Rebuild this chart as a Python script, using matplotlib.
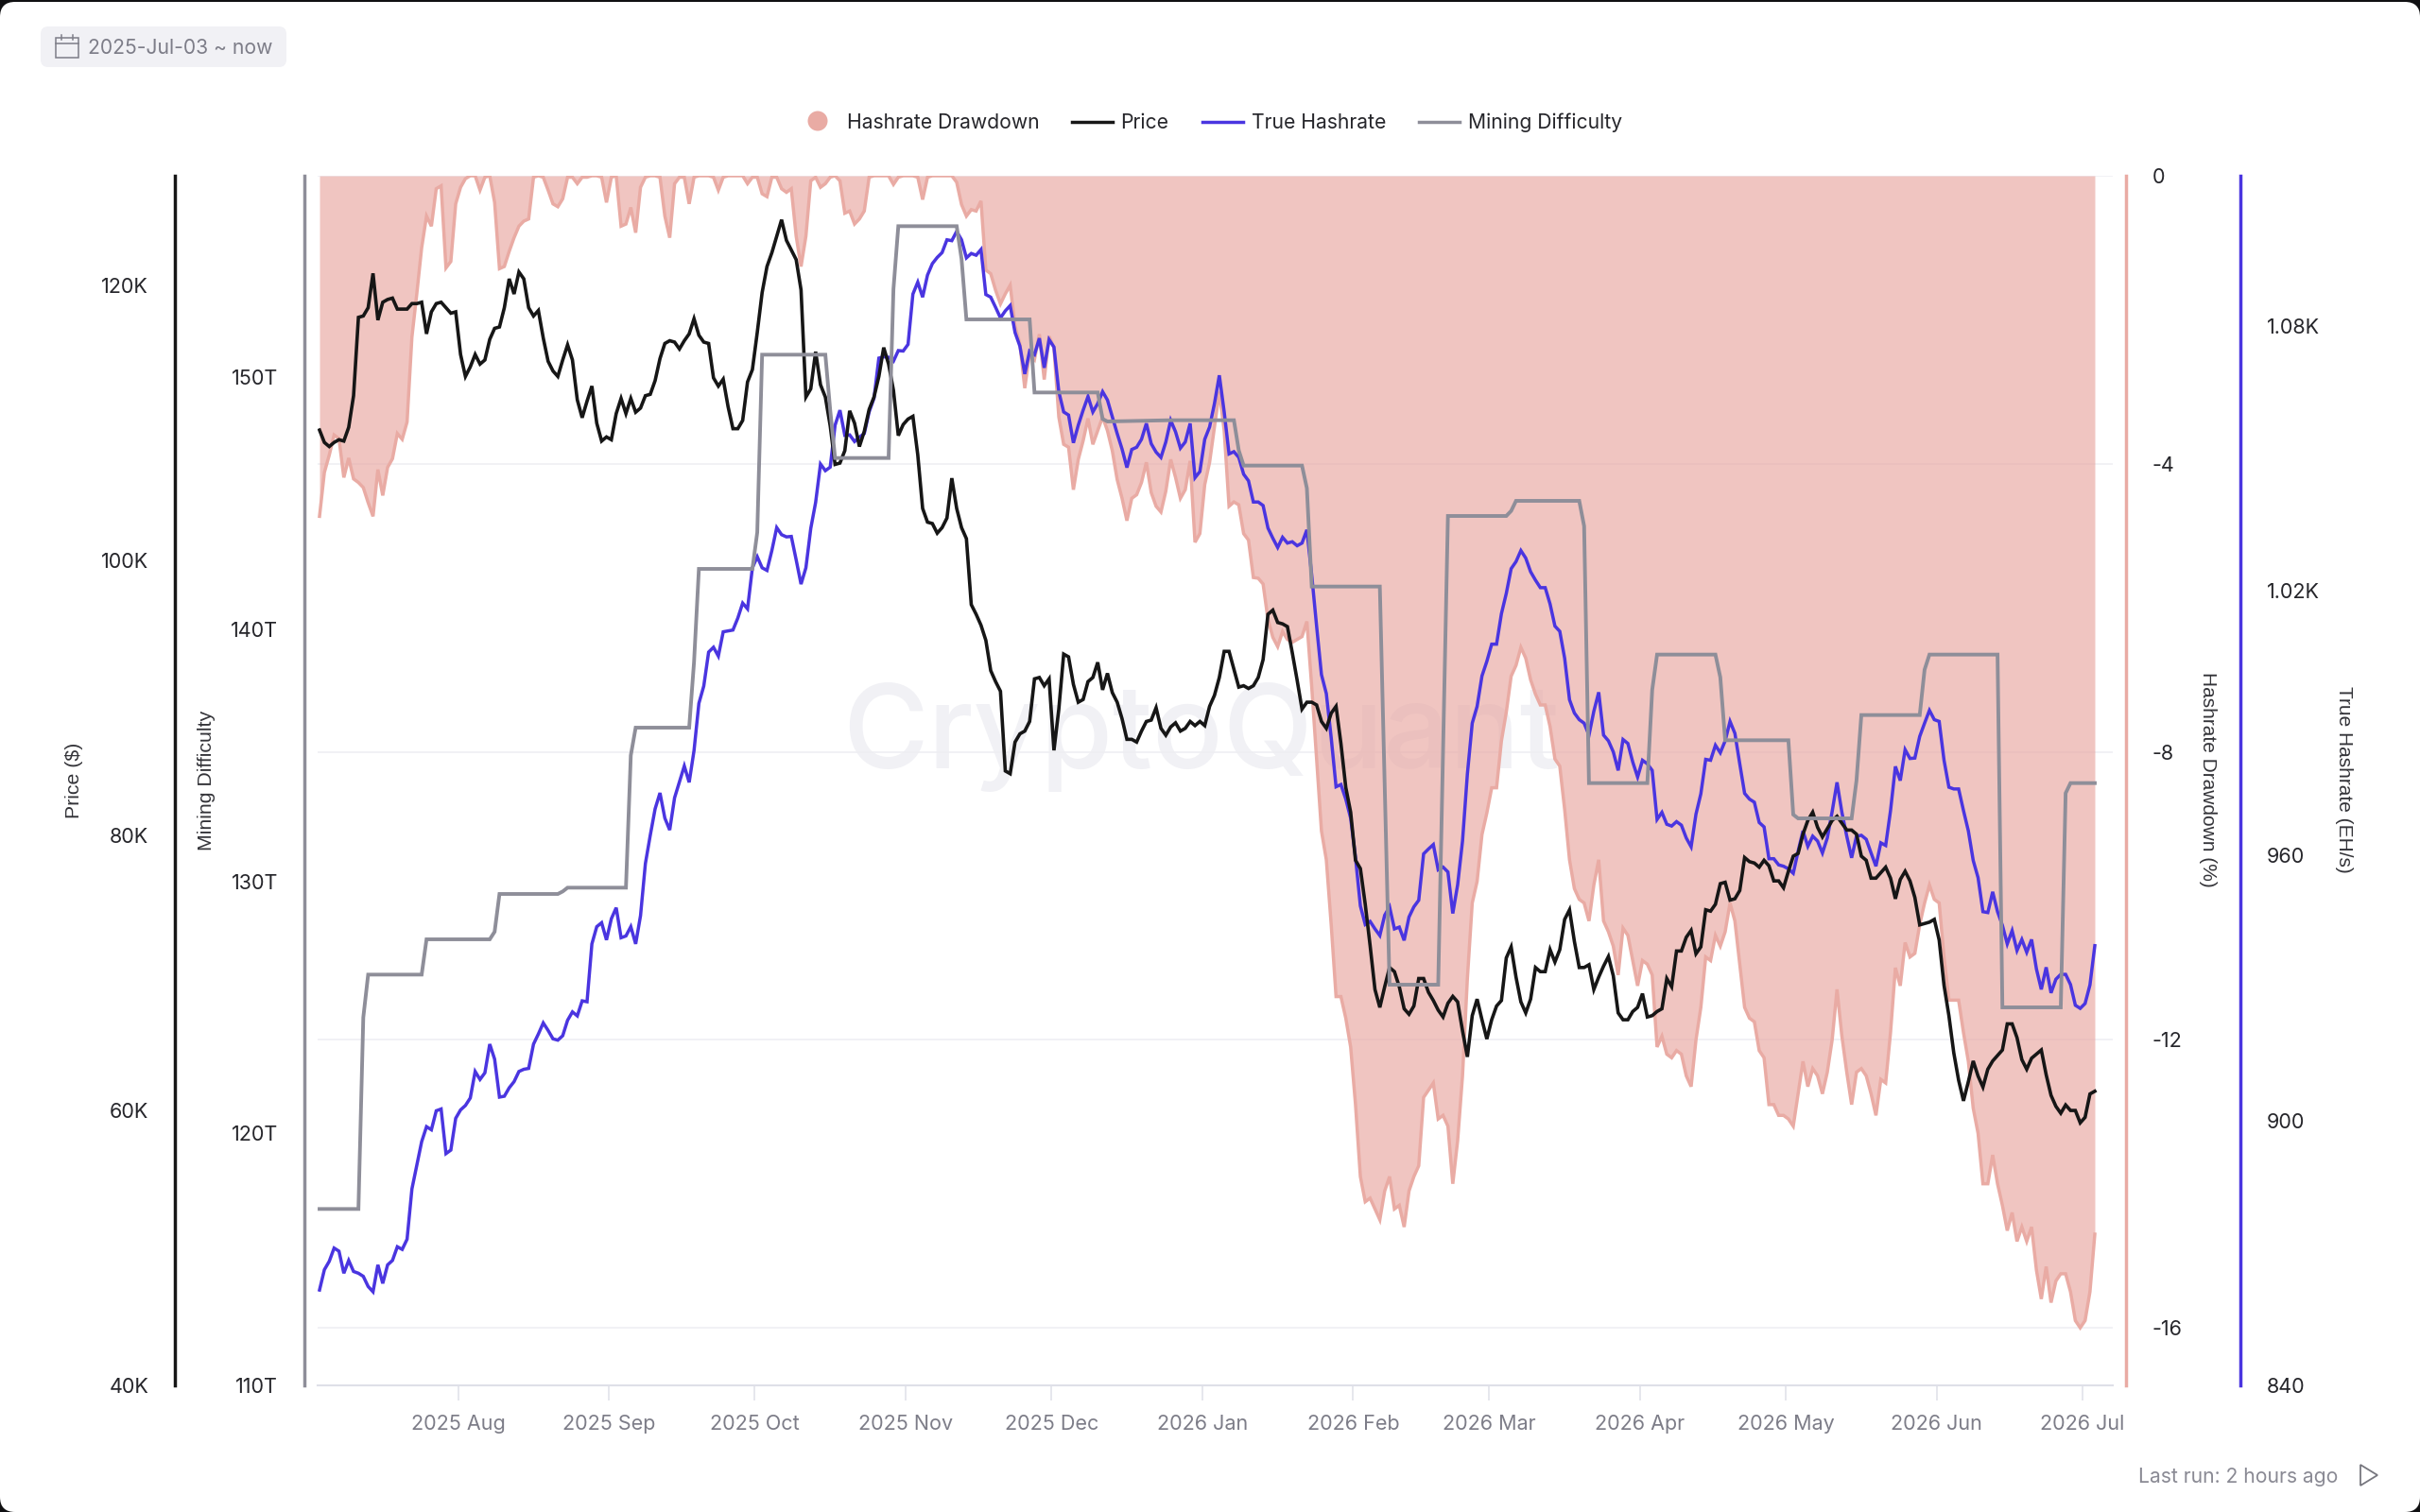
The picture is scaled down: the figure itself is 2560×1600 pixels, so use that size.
import pandas as pd
import matplotlib
matplotlib.use("Agg")
import matplotlib.pyplot as plt
import matplotlib.dates as mdates
from matplotlib.patches import FancyBboxPatch, Rectangle, Circle, Polygon

plt.rcParams['font.family'] = ['Inter', 'DejaVu Sans']

# daily values from 2025-07-03
start_date = "2025-07-03 12:00"

price_k = [
    109.5,108.6,108.3,108.6,108.8,108.7,109.7,112.0,117.7,117.8,
    118.4,120.9,117.5,118.8,119.0,119.1,118.3,118.3,118.3,118.7,
    118.7,118.8,116.5,118.1,118.7,118.8,118.4,118.0,118.1,115.0,
    113.4,114.1,115.0,114.3,114.6,116.1,116.9,117.0,118.4,120.5,
    119.4,121.0,120.5,118.4,117.8,118.2,116.2,114.5,113.8,113.4,
    114.6,115.7,114.6,111.7,110.4,111.6,112.7,110.0,108.7,109.0,
    108.8,110.7,111.8,110.7,111.8,110.8,111.1,112.0,112.1,113.1,
    114.7,115.8,116.0,115.9,115.4,116.0,116.5,117.6,116.4,115.9,
    115.8,113.3,112.7,113.2,111.2,109.6,109.6,110.2,113.0,113.9,
    116.6,119.5,121.4,122.4,123.6,124.8,123.3,122.6,121.9,119.7,
    111.9,112.5,115.2,112.8,111.9,109.8,107.0,107.1,108.0,110.9,
    110.0,108.3,109.4,111.0,111.9,113.4,115.5,114.3,112.4,109.1,
    109.9,110.3,110.5,107.7,103.8,102.8,102.7,102.0,102.4,103.1,
    106.0,103.8,102.4,101.6,96.8,96.1,95.3,94.2,92.0,91.2,
    90.5,84.7,84.5,86.8,87.4,87.6,88.3,91.4,91.5,90.9,
    91.4,86.2,89.2,93.2,93.0,91.0,89.7,89.9,91.2,91.5,
    92.6,90.6,91.8,90.4,89.7,88.5,87.0,87.0,86.8,87.6,
    88.3,88.4,89.3,87.8,87.3,87.9,88.2,87.6,87.8,88.3,
    88.0,88.3,88.0,89.4,90.2,91.5,93.4,93.4,92.1,90.8,
    90.9,90.7,90.9,91.5,92.8,96.1,96.4,95.5,95.4,95.2,
    93.3,91.3,89.2,89.7,89.7,89.5,88.3,87.8,88.9,89.4,
    86.7,83.5,81.7,78.2,77.6,75.0,72.0,68.8,67.5,69.0,
    70.4,70.1,69.0,67.4,67.0,67.6,69.6,69.6,68.6,68.0,
    67.3,66.8,67.8,68.3,67.9,65.8,63.9,66.9,68.1,66.6,
    65.2,66.6,67.6,68.0,71.1,71.9,69.7,67.9,67.1,68.1,
    70.4,70.1,70.1,71.7,70.8,71.7,73.9,74.6,72.3,70.4,
    70.4,70.6,68.8,69.7,70.5,71.2,69.8,67.1,66.6,66.6,
    67.2,67.5,68.5,66.8,66.9,67.2,67.4,69.6,69.0,71.6,
    71.6,72.6,73.1,71.4,71.9,74.6,74.5,75.0,76.5,76.6,
    75.3,75.4,76.0,78.4,78.1,78.0,77.7,78.2,77.8,76.7,
    76.7,76.2,77.4,78.5,78.7,80.1,81.1,81.7,80.6,79.9,
    80.5,81.1,81.4,80.9,80.4,80.4,80.1,78.5,78.2,76.9,
    76.9,77.3,77.7,76.9,75.4,76.8,77.4,76.7,75.5,73.5,
    73.6,73.7,73.9,72.4,69.1,66.9,64.2,62.2,60.7,62.1,
    63.6,62.5,61.7,63.0,63.6,64.0,64.4,66.3,66.3,65.3,
    63.7,63.0,63.8,64.1,64.4,62.6,61.1,60.3,59.8,60.4,
    60.0,60.0,59.1,59.5,61.2,61.4,
]

hashrate = [
    861.6,866.2,868.1,871.1,870.4,865.4,868.3,865.8,865.4,864.7,
    862.4,861.2,867.3,863.1,867.3,868.3,871.4,870.8,873.1,884.5,
    889.8,895.2,898.6,897.9,902.2,902.6,892.5,893.3,900.5,902.4,
    903.4,905.1,911.1,909.3,910.8,917.3,913.9,905.3,905.5,907.4,
    908.8,911.1,911.6,911.8,917.3,919.6,922.1,920.4,918.5,918.2,
    919.2,922.7,924.6,923.7,927.1,926.9,940.0,943.9,944.8,940.9,
    945.7,948.2,941.4,941.8,943.9,940.0,946.4,958.2,964.6,970.6,
    974.2,968.5,965.8,973.1,976.7,980.3,976.6,983.8,994.5,998.4,
    1006.1,1007.2,1005.2,1010.7,1010.9,1011.1,1013.8,1017.2,1015.9,1025.2,
    1027.7,1025.2,1024.6,1029.1,1034.3,1032.7,1032.2,1032.3,1027.0,1021.5,
    1025.2,1034.1,1040.0,1048.7,1047.2,1048.0,1057.5,1060.9,1055.2,1055.3,
    1053.8,1054.8,1055.6,1060.5,1063.6,1072.7,1073.0,1072.9,1072.0,1074.4,
    1074.3,1075.8,1087.2,1089.9,1086.5,1091.5,1094.1,1095.5,1096.6,1099.5,
    1099.3,1101.4,1099.5,1095.4,1096.4,1096.0,1097.3,1087.1,1086.5,1084.2,
    1081.8,1083.4,1084.6,1078.5,1075.4,1069.1,1074.3,1073.5,1077.2,1070.5,
    1076.9,1075.2,1065.1,1060.5,1059.8,1053.5,1057.5,1060.9,1064.0,1060.5,
    1062.4,1065.1,1063.2,1059.4,1055.6,1052.1,1047.9,1052.0,1052.5,1054.3,
    1057.9,1053.3,1051.4,1050.2,1053.7,1058.6,1056.0,1052.3,1053.7,1057.9,
    1045.6,1047.0,1054.3,1057.1,1062.4,1068.8,1060.5,1051.0,1051.5,1050.2,
    1046.4,1044.9,1040.1,1040.1,1039.3,1034.2,1031.9,1029.8,1032.1,1030.8,
    1031.1,1030.2,1030.8,1033.8,1023.5,1012.0,1001.0,996.7,986.7,975.6,
    976.1,972.8,968.5,959.6,948.6,944.4,945.1,943.4,941.9,946.5,
    948.4,943.4,943.8,940.8,946.1,948.4,949.9,960.4,961.5,962.5,
    956.8,957.4,956.3,946.9,953.4,963.3,978.5,990.0,993.8,1000.7,
    1004.0,1007.9,1007.9,1014.8,1019.4,1025.0,1026.6,1029.1,1027.4,1024.3,
    1022.4,1020.7,1020.7,1017.0,1012.0,1010.8,1004.7,995.3,992.3,990.8,
    990.0,987.3,992.7,997.0,987.3,986.0,983.5,979.3,986.3,985.4,
    981.2,977.8,981.6,980.8,979.3,968.2,969.8,967.1,966.7,967.7,
    966.9,964.0,962.0,969.4,974.0,981.8,981.6,985.0,983.3,986.0,
    990.4,987.7,980.8,974.1,972.8,972.1,967.5,966.5,959.3,959.3,
    957.9,957.6,957.0,956.0,961.0,965.6,962.1,964.4,963.3,960.6,
    964.0,970.0,976.6,969.8,964.4,959.5,964.4,964.6,963.7,960.6,
    957.6,962.9,962.3,970.2,980.2,977.0,984.0,982.0,982.1,987.0,
    990.0,992.9,990.8,990.4,981.6,975.5,975.1,975.1,970.2,965.6,
    958.9,955.0,947.3,947.1,951.8,947.3,944.2,940.0,943.0,938.5,
    941.0,938.1,941.0,934.3,929.7,934.7,928.9,932.0,933.1,933.1,
    930.8,926.1,925.4,926.5,930.7,939.6,
]

drawdown = [
    -4.73,-4.12,-3.88,-3.6,-3.65,-4.19,-3.92,-4.21,-4.26,-4.33,
    -4.54,-4.73,-4.08,-4.44,-4.05,-3.93,-3.58,-3.66,-3.42,-2.24,
    -1.64,-1.0,-0.56,-0.7,-0.18,-0.14,-1.28,-1.19,-0.39,-0.16,
    -0.04,0,0,-0.2,-0.02,0,-0.37,-1.29,-1.26,-1.05,
    -0.86,-0.7,-0.63,-0.6,-0.02,0,-0.02,-0.2,-0.39,-0.43,
    -0.32,-0.02,-0.02,-0.11,-0.02,-0.02,0,0,-0.02,-0.37,
    -0.02,0,-0.7,-0.67,-0.44,-0.79,-0.16,-0.02,0,0,
    -0.02,-0.56,-0.86,-0.11,-0.02,-0.02,-0.39,-0.02,0,0,
    0,-0.02,-0.2,-0.02,0,0,0,0,-0.11,-0.02,
    -0.02,-0.25,-0.29,-0.02,-0.02,-0.18,-0.23,-0.18,-0.84,-1.26,
    -0.84,-0.07,-0.02,-0.16,-0.11,-0.02,0,-0.07,-0.52,-0.49,
    -0.67,-0.6,-0.49,-0.02,0,0,0,0,-0.12,-0.02,
    0,0,0,-0.02,-0.33,-0.02,0,0,0,0,
    0,-0.09,-0.4,-0.56,-0.47,-0.49,-0.35,-1.31,-1.36,-1.59,
    -1.78,-1.64,-1.52,-2.09,-2.34,-2.95,-2.46,-2.55,-2.2,-2.83,
    -2.23,-2.39,-3.35,-3.73,-3.77,-4.36,-3.94,-3.68,-3.37,-3.73,
    -3.54,-3.35,-3.54,-3.82,-4.22,-4.48,-4.79,-4.48,-4.43,-4.26,
    -3.98,-4.4,-4.59,-4.67,-4.38,-3.94,-4.19,-4.48,-4.36,-3.96,
    -5.09,-4.97,-4.29,-3.98,-3.49,-3.0,-3.54,-4.59,-4.53,-4.57,
    -4.97,-5.06,-5.58,-5.59,-5.67,-6.16,-6.41,-6.54,-6.33,-6.44,
    -6.48,-6.44,-6.4,-6.19,-7.1,-8.1,-9.1,-9.5,-10.4,-11.4,
    -11.4,-11.7,-12.1,-12.9,-13.9,-14.25,-14.2,-14.35,-14.5,-14.1,
    -13.9,-14.35,-14.3,-14.6,-14.1,-13.9,-13.75,-12.8,-12.7,-12.6,
    -13.1,-13.05,-13.2,-14.0,-13.4,-12.5,-11.15,-10.1,-9.8,-9.15,
    -8.85,-8.5,-8.5,-7.85,-7.45,-6.95,-6.8,-6.55,-6.7,-7.0,
    -7.2,-7.35,-7.35,-7.65,-8.1,-8.2,-8.8,-9.5,-9.9,-10.05,
    -10.1,-10.35,-9.85,-9.5,-10.35,-10.5,-10.7,-11.1,-10.45,-10.55,
    -10.9,-11.25,-10.9,-10.95,-11.1,-12.1,-11.95,-12.2,-12.25,-12.15,
    -12.2,-12.5,-12.65,-12.0,-11.55,-10.85,-10.9,-10.55,-10.7,-10.5,
    -10.1,-10.35,-10.95,-11.55,-11.7,-11.75,-12.15,-12.25,-12.9,-12.9,
    -13.05,-13.05,-13.1,-13.2,-12.75,-12.3,-12.65,-12.4,-12.5,-12.75,
    -12.45,-12.0,-11.3,-11.95,-12.45,-12.9,-12.45,-12.4,-12.5,-12.75,
    -13.05,-12.55,-12.6,-11.9,-11.0,-11.25,-10.65,-10.85,-10.8,-10.4,
    -10.1,-9.85,-10.05,-10.1,-10.85,-11.45,-11.45,-11.45,-11.9,-12.3,
    -12.95,-13.3,-14.0,-14.0,-13.6,-14.0,-14.3,-14.65,-14.4,-14.8,
    -14.6,-14.8,-14.6,-15.2,-15.6,-15.15,-15.65,-15.35,-15.25,-15.25,
    -15.5,-15.9,-16.0,-15.9,-15.5,-14.7,
]

# difficulty changes in steps, so only the corners are listed (day offset, value in T)
diff_days = [0,8,9,10,21,22,35,36,37,49,50,51,63,64,65,76,77,78,89,90,91,104,105,106,
             117,118,119,131,132,133,146,147,160,161,162,175,188,189,190,202,203,204,
             218,220,230,232,244,245,246,259,260,261,273,274,275,287,288,289,302,303,304,
             315,316,317,329,330,331,345,346,358,359,360,365]
diff_vals = [117.0,117.0,124.6,126.3,126.3,127.7,127.7,128.0,129.5,129.5,129.6,129.75,129.75,135.0,136.1,
             136.1,138.7,142.4,142.4,143.85,150.9,150.9,148.7,146.8,146.8,153.5,156.0,156.0,154.7,152.3,
             152.3,149.4,149.4,148.35,148.25,148.3,148.3,147.1,146.5,146.5,145.6,141.7,
             141.7,125.9,125.9,144.5,144.5,144.7,145.1,145.1,144.1,133.9,133.9,137.6,139.0,139.0,138.1,135.6,
             135.6,132.65,132.5,132.5,134.0,136.6,136.6,138.4,139.0,139.0,125.0,125.0,133.5,133.9,133.9]

price_ticks = [40, 60, 80, 100, 120]
price_labels = ["40K", "60K", "80K", "100K", "120K"]
diff_ticks = [110, 120, 130, 140, 150]
diff_labels = ["110T", "120T", "130T", "140T", "150T"]
dd_ticks = [0, -4, -8, -12, -16]
dd_labels = ["0", "-4", "-8", "-12", "-16"]
hash_ticks = [840, 900, 960, 1020, 1080]
hash_labels = ["840", "900", "960", "1.02K", "1.08K"]

BLACK = "#161616"
BLUE = "#4a35e0"
GREY = "#8e8e99"
PINK = "#e9aba4"
TEXT = "#26262b"
MUTED = "#7d7d88"

dates = pd.date_range(start_date, periods=len(price_k), freq="D")
diff_dates = pd.Timestamp(start_date) + pd.to_timedelta(diff_days, unit="D")

fig = plt.figure(figsize=(25.6, 16), dpi=100, facecolor="#101012")

# full size layer in pixels, for everything that is not a series
bg = fig.add_axes([0, 0, 1, 1], zorder=0)
bg.set_xlim(0, 2560)
bg.set_ylim(1600, 0)
bg.axis("off")
bg.add_patch(FancyBboxPatch((14, 16), 2532, 1570, boxstyle="round,pad=14,rounding_size=16",
                            fc="white", ec="none"))

bg.text(1270, 813, "CryptoQuant", color="#f1f1f5", fontsize=89, fontweight="medium",
        ha="center", va="baseline")

# date chip
bg.add_patch(FancyBboxPatch((51, 36), 244, 27, boxstyle="round,pad=8,rounding_size=8",
                            fc="#f1f1f5", ec="none"))
bg.add_patch(Rectangle((59, 40), 24, 21, fc="none", ec=MUTED, lw=1.1))
bg.plot([59, 83], [46, 46], color=MUTED, lw=1.1)
bg.plot([65, 65], [37, 42], color=MUTED, lw=1.1)
bg.plot([77, 77], [37, 42], color=MUTED, lw=1.1)
bg.text(93, 51, "2025-Jul-03 ~ now", color=MUTED, fontsize=15.2, va="center")

# legend
LEG_Y = 130
bg.add_patch(Circle((865, LEG_Y - 2), 10.5, fc=PINK, ec="none"))
bg.text(896, LEG_Y, "Hashrate Drawdown", color=TEXT, fontsize=15.2, va="center")
bg.plot([1134, 1177], [LEG_Y - 1, LEG_Y - 1], color=BLACK, lw=2.5)
bg.text(1185, LEG_Y, "Price", color=TEXT, fontsize=15.2, va="center")
bg.plot([1272, 1315], [LEG_Y - 1, LEG_Y - 1], color=BLUE, lw=2.5)
bg.text(1324, LEG_Y, "True Hashrate", color=TEXT, fontsize=15.2, va="center")
bg.plot([1501, 1544], [LEG_Y - 1, LEG_Y - 1], color=GREY, lw=2.5)
bg.text(1553, LEG_Y, "Mining Difficulty", color=TEXT, fontsize=15.2, va="center")

# axis titles
title_font = ["Liberation Sans", "DejaVu Sans"]
bg.text(79, 826, "Price ($)", rotation=90, color="#333338", fontsize=15.3, family=title_font,
        ha="center", va="center")
bg.text(218, 826, "Mining Difficulty", rotation=90, color="#333338", fontsize=15.3, family=title_font,
        ha="center", va="center")
bg.text(2335, 825, "Hashrate Drawdown (%)", rotation=270, color="#333338", fontsize=15,
        family=title_font, ha="center", va="center")
bg.text(2480, 825, "True Hashrate (EH/s)", rotation=270, color="#333338", fontsize=15,
        family=title_font, ha="center", va="center")

# footer
bg.text(2262, 1563, "Last run: 2 hours ago", color="#8a8a94", fontsize=15.2, va="center")
bg.add_patch(Polygon([(2497, 1550), (2515, 1561), (2497, 1572)], closed=True, fc="none",
                     ec="#77777f", lw=1.3))

# plot area spans x 336..2235, y 186..1466 px
AX_L, AX_R, AX_T, AX_B = 336, 2235, 186, 1466
ax_dd = fig.add_axes([AX_L / 2560, 1 - AX_B / 1600, (AX_R - AX_L) / 2560, (AX_B - AX_T) / 1600], zorder=1)
ax_dd.patch.set_visible(False)
PX_PER_DAY = 5.145
ax_dd.set_xlim(dates[0] - pd.Timedelta(days=2 / PX_PER_DAY),
               dates[-1] + pd.Timedelta(days=19 / PX_PER_DAY))

ax_hash = ax_dd.twinx()
ax_price = ax_dd.twinx()
ax_diff = ax_dd.twinx()
for i, a in enumerate([ax_hash, ax_price, ax_diff]):
    a.set_zorder(2 + i)
    a.patch.set_visible(False)

for a in [ax_dd, ax_hash, ax_price, ax_diff]:
    for s in a.spines.values():
        s.set_visible(False)

ax_dd.fill_between(dates, drawdown, 0, color="#e9a7a1", alpha=0.65, lw=0, zorder=2)
ax_dd.plot(dates, drawdown, color=PINK, lw=2.5, solid_joinstyle="miter", zorder=3)
ax_hash.plot(dates, hashrate, color=BLUE, lw=2.5, solid_joinstyle="miter")
ax_price.plot(dates, price_k, color=BLACK, lw=2.6, solid_joinstyle="miter")
ax_diff.plot(diff_dates, diff_vals, color=GREY, lw=2.8, solid_joinstyle="miter")

ax_dd.set_ylim(-16.8, 0)
ax_hash.set_ylim(840, 1114)
ax_price.set_ylim(40, 128)
ax_diff.set_ylim(110, 158)

ax_dd.set_yticks(dd_ticks, dd_labels)
ax_hash.set_yticks(hash_ticks, hash_labels)
ax_price.set_yticks(price_ticks, price_labels)
ax_diff.set_yticks(diff_ticks, diff_labels)

ax_dd.grid(axis="y", color="#eeeef2", lw=1.1, zorder=1)
ax_dd.set_axisbelow(True)

# one separate axis line per series, with labels 28 px away from it
def place_axis(a, side, x_px, colour):
    sp = a.spines[side]
    sp.set_visible(True)
    sp.set_position(("axes", (x_px - AX_L) / (AX_R - AX_L)))
    sp.set_color(colour)
    sp.set_linewidth(2.5)
    a.yaxis.set_ticks_position(side)
    a.tick_params(axis="y", length=0, pad=20, labelsize=15.5, labelcolor=TEXT)

place_axis(ax_price, "left", 185, BLACK)
place_axis(ax_diff, "left", 322, GREY)
place_axis(ax_dd, "right", 2249, PINK)
place_axis(ax_hash, "right", 2370, BLUE)

ax_dd.spines["bottom"].set_visible(True)
ax_dd.spines["bottom"].set_color("#dfe0e8")
ax_dd.spines["bottom"].set_linewidth(1.5)
ax_dd.xaxis.set_major_locator(mdates.MonthLocator())
ax_dd.xaxis.set_major_formatter(mdates.DateFormatter("%Y %b"))
ax_dd.tick_params(axis="x", length=11.5, width=1.1, color="#dfe0e8", pad=11, labelsize=15.5, labelcolor=MUTED)

fig.savefig("out.png", dpi=100, facecolor=fig.get_facecolor())
